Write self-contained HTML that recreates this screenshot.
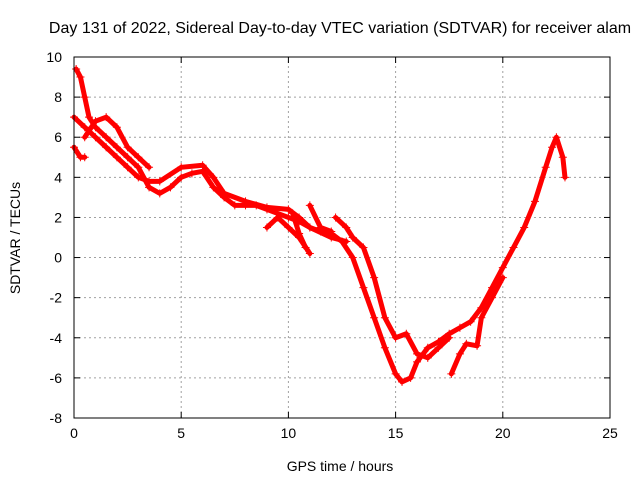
<!DOCTYPE html>
<html><head><meta charset="utf-8"><style>
body{margin:0;background:#fff;}
svg{display:block;font-family:"Liberation Sans",sans-serif;}
</style></head><body>
<svg width="640" height="480">
<rect width="640" height="480" fill="#fff"/>
<text x="340" y="33" font-size="16" text-anchor="middle">Day 131 of 2022, Sidereal Day-to-day VTEC variation (SDTVAR) for receiver alam</text>
<g id="grid"></g>
<g id="axes"></g>
<g id="series"></g>
<rect x="74" y="57" width="536" height="361" fill="none" stroke="#000" stroke-width="1"/>
<text x="340" y="471" font-size="14" text-anchor="middle">GPS time / hours</text>
<text x="0" y="0" font-size="14" text-anchor="middle" transform="translate(20,238) rotate(-90)">SDTVAR / TECUs</text>
</svg>
<script>
const xTicks=[0,5,10,15,20,25];
const yTicks=[-8,-6,-4,-2,0,2,4,6,8,10];
const trackA=[[0.1,9.4],[0.3,9],[0.5,8],[0.7,7],[1,6.5],[1.5,6],[2,5.5],[2.5,5],[3,4.5],[3.5,3.5],[4,3.2],[4.5,3.5],[5,4],[5.5,4.2],[6,4.3],[6.5,3.5],[7,3],[7.5,2.6],[8,2.6],[8.5,2.6],[9,2.4],[9.5,2.2],[10,2],[10.5,1.8],[11,1.5],[11.5,1.3],[12,1.2],[12.5,0.8],[13,0],[13.5,-1.5],[14,-3],[14.5,-4.5],[15,-5.8],[15.3,-6.2],[15.7,-6],[16,-5.2],[16.5,-4.5],[17,-4.2],[17.5,-3.8],[18,-3.5],[18.5,-3.2],[19,-2.5],[19.5,-1.5],[20,-0.5],[20.5,0.5],[21,1.5],[21.5,2.8],[22,4.5],[22.3,5.5],[22.5,6],[22.8,5],[22.9,4]];
const trackB=[[0,7],[0.5,6.5],[1,6],[1.5,5.5],[2,5],[2.5,4.5],[3,4],[3.5,3.8],[4,3.8],[5,4.5],[6,4.6],[6.5,4],[7,3.2],[8,2.8],[9,2.5],[10,2.4],[10.5,2],[11,1.5],[12,1],[12.7,0.8]];
const trackC=[[0,5.5],[0.3,5],[0.5,5]];
const trackD=[[0.5,6],[1,6.8],[1.5,7],[2,6.5],[2.5,5.5],[3,5],[3.5,4.5]];
const trackE=[[9,1.5],[9.5,2],[10,1.5],[10.5,1],[11,0.2]];
const trackF=[[10.2,2.2],[10.5,1.2],[10.8,0.5]];
const trackG=[[11,2.6],[11.5,1.5],[12,1.3]];
const trackH=[[12.2,2],[12.7,1.5],[13,1],[13.5,0.5],[14,-1],[14.5,-3],[15,-4],[15.5,-3.8],[16,-4.8],[16.5,-5],[17,-4.5],[17.5,-4]];
const trackI=[[17.6,-5.8],[18,-4.8],[18.3,-4.3],[18.8,-4.4],[19,-3],[19.5,-2],[20,-1]];
const tracks=[trackA,trackB,trackC,trackD,trackE,trackF,trackG,trackH,trackI];
const NS="http://www.w3.org/2000/svg";
const X0=74,X1=610,Y0=418,Y1=57;
function sx(v){return X0+(v-0)/(25-0)*(X1-X0);}
function sy(v){return Y0-(v-(-8))/(10-(-8))*(Y0-Y1);}
const grid=document.getElementById('grid'),axes=document.getElementById('axes'),ser=document.getElementById('series');
function mk(t,a,p){const e=document.createElementNS(NS,t);for(const k in a)e.setAttribute(k,a[k]);p.appendChild(e);return e;}
xTicks.forEach(v=>{
 if(v>0&&v<25){const g=mk('line',{x1:sx(v),x2:sx(v),y1:Y0,y2:Y1,stroke:'#a0a0a0','stroke-dasharray':'2,3'},grid);
 
 }
 mk('line',{x1:sx(v),x2:sx(v),y1:Y0,y2:Y0-6,stroke:'#000'},axes);
 mk('line',{x1:sx(v),x2:sx(v),y1:Y1,y2:Y1+6,stroke:'#000'},axes);
 const t=mk('text',{x:sx(v),y:Y0+20,'font-size':14,'text-anchor':'middle'},axes);t.textContent=v;
 
 
});
yTicks.forEach(v=>{
 if(v>-8&&v<10){const g=mk('line',{x1:X0,x2:X1,y1:sy(v),y2:sy(v),stroke:'#a0a0a0','stroke-dasharray':'2,3'},grid);
 
 }
 mk('line',{x1:X0,x2:X0+6,y1:sy(v),y2:sy(v),stroke:'#000'},axes);
 mk('line',{x1:X1,x2:X1-6,y1:sy(v),y2:sy(v),stroke:'#000'},axes);
 const t=mk('text',{x:X0-12,y:sy(v)+5,'font-size':14,'text-anchor':'end'},axes);t.textContent=v;
 
 
});
tracks.forEach((tr,i)=>{
 const pl=mk('polyline',{points:tr.map(p=>sx(p[0])+','+sy(p[1])).join(' '),fill:'none',stroke:'#f00','stroke-width':5,'stroke-linejoin':'round','stroke-linecap':'round'},ser);
 
 
 tr.forEach(p=>{
  const x=sx(p[0]),y=sy(p[1]);
  const m=mk('path',{d:`M${x-4},${y}H${x+4}M${x},${y-4}V${y+4}`,stroke:'#f00','stroke-width':1},ser);
  
  
 });
});
</script>
</body></html>
